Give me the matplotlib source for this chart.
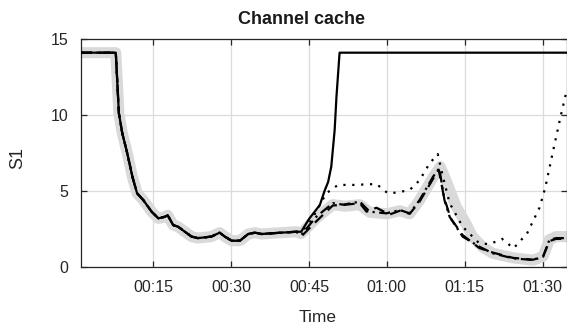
import matplotlib
matplotlib.use('Agg')
import matplotlib.pyplot as plt
from matplotlib.ticker import FuncFormatter

plt.rcParams['font.family'] = ['Liberation Sans', 'DejaVu Sans']

# tramo comun (minutos, valor) antes de que las series se separen
t_base = [1.1, 7.8, 8.4, 9.05, 10.0, 11.0, 11.9, 13.1, 14.7, 16.0, 17.2, 17.8,
          18.85, 19.8, 21.1, 22.4, 23.6, 26.2, 27.8, 28.8, 30.1, 31.7, 33.3,
          34.6, 35.85, 37.1, 39.7, 42.6]
v_base = [14.1, 14.1, 10.1, 8.8, 7.5, 5.94, 4.85, 4.4, 3.64, 3.2, 3.3, 3.4,
          2.76, 2.65, 2.32, 2.0, 1.9, 2.0, 2.26, 2.0, 1.73, 1.73, 2.17,
          2.26, 2.17, 2.2, 2.26, 2.32]

# cola de cada serie
t_gray = [43.5, 46.4, 49.6, 52.0, 54.8, 56.7, 60.0, 62.5, 64.4, 66.3, 68.9,
          70.3, 71.5, 73.3, 75.0, 76.5, 78.5, 80.4, 84.3, 88.2, 90.1, 91.3,
          92.6, 94.7]
v_gray = [2.2, 3.2, 4.1, 4.0, 4.1, 3.6, 3.5, 3.7, 3.5, 4.4, 5.9,
          6.6, 5.6, 4.0, 3.0, 2.0, 1.3, 0.9, 0.6, 0.45, 0.7, 1.8,
          2.0, 2.0]

t_solid = [43.5, 45.1, 47.1, 48.0, 48.7, 49.3, 49.95, 50.3, 50.9, 94.7]
v_solid = [2.32, 3.2, 4.08, 5.0, 5.6, 6.6, 9.0, 11.2, 14.1, 14.1]

t_dot = [43.5, 45.5, 48.35, 50.6, 53.5, 58.0, 60.2, 62.0, 64.4, 66.3, 68.2,
         69.8, 70.8, 72.1, 74.6, 77.8, 79.8, 82.2, 84.4, 87.0, 89.4, 90.5,
         92.0, 93.4, 94.7]
v_dot = [2.3, 3.1, 4.85, 5.4, 5.4, 5.46, 4.85, 4.9, 5.07, 5.7, 6.8,
         7.43, 5.94, 4.2, 2.65, 1.56, 1.5, 1.85, 1.23, 2.2, 3.9, 5.2,
         7.6, 9.8, 11.7]

t_dashdot = [43.5, 46.4, 49.6, 51.6, 54.8, 56.7, 59.9, 62.5, 64.4, 66.3, 68.9,
             70.1, 71.1, 72.1, 74.6, 77.8, 80.4, 84.3, 88.2, 90.1, 91.3,
             92.6, 94.7]
v_dashdot = [2.1, 3.3, 4.2, 4.1, 4.3, 3.64, 3.53, 3.75, 3.53, 4.4, 5.94,
             6.5, 4.4, 3.3, 2.0, 1.34, 0.9, 0.57, 0.46, 0.68, 1.78,
             1.9, 1.9]

t_dash = [43.5, 46.4, 49.6, 51.6, 54.8, 56.1, 58.0, 60.5, 62.5, 64.4, 66.3,
          68.9, 70.0, 71.0, 72.3, 74.6, 77.8, 80.4, 84.3, 88.2, 90.1, 91.3,
          92.6, 94.7]
v_dash = [2.0, 3.0, 4.05, 4.08, 4.2, 3.64, 3.9, 3.45, 3.7, 3.5, 4.3,
          5.8, 6.4, 4.6, 3.2, 2.1, 1.25, 0.95, 0.6, 0.48, 0.7, 1.7,
          1.85, 1.85]

x_ticks = [15, 30, 45, 60, 75, 90]
y_ticks = [0, 5, 10, 15]


def minutos_a_hhmm(x, pos):
    return f'{int(x // 60):02d}:{int(round(x % 60)):02d}'


fig = plt.figure(figsize=(5.67, 3.26), dpi=100)
ax = fig.add_axes([81 / 567, 59 / 326, 486 / 567, 228 / 326])

ax.plot(t_base + t_gray, v_base + v_gray, color='#d9d9d9', lw=8,
        solid_capstyle='round', solid_joinstyle='round', zorder=2)
ax.plot(t_base + t_dash, v_base + v_dash, color='black', lw=1.6,
        linestyle=(0, (5, 3)), zorder=3)
ax.plot(t_base + t_dashdot, v_base + v_dashdot, color='black', lw=1.6,
        linestyle=(0, (5, 2, 1, 2)), zorder=3)
ax.plot(t_base + t_dot, v_base + v_dot, color='black', lw=1.6,
        linestyle=(0, (1, 3)), zorder=3)
ax.plot(t_base + t_solid, v_base + v_solid, color='black', lw=1.6, zorder=4)

ax.set_xlim(1.1, 94.7)
ax.set_ylim(0, 15)
ax.set_xticks(x_ticks)
ax.set_yticks(y_ticks)
ax.xaxis.set_major_formatter(FuncFormatter(minutos_a_hhmm))
ax.grid(True, color='#dcdcdc', lw=0.9)
ax.set_axisbelow(True)
ax.tick_params(direction='in', top=True, right=True, length=4, width=0.9,
               labelsize=11.5, colors='#262626', pad=9)
for s in ax.spines.values():
    s.set_color('#262626')
    s.set_linewidth(0.9)

ax.set_title('Channel cache', fontsize=13, fontweight='bold', x=0.454, pad=11,
             color='#1a1a1a')
ax.set_xlabel('Time', fontsize=12.5, color='#262626')
ax.xaxis.set_label_coords(0.486, -0.19)
ax.set_ylabel('S1', fontsize=13, color='#262626')
ax.yaxis.set_label_coords(-0.112, 0.478)

fig.savefig('out.png', dpi=100)
